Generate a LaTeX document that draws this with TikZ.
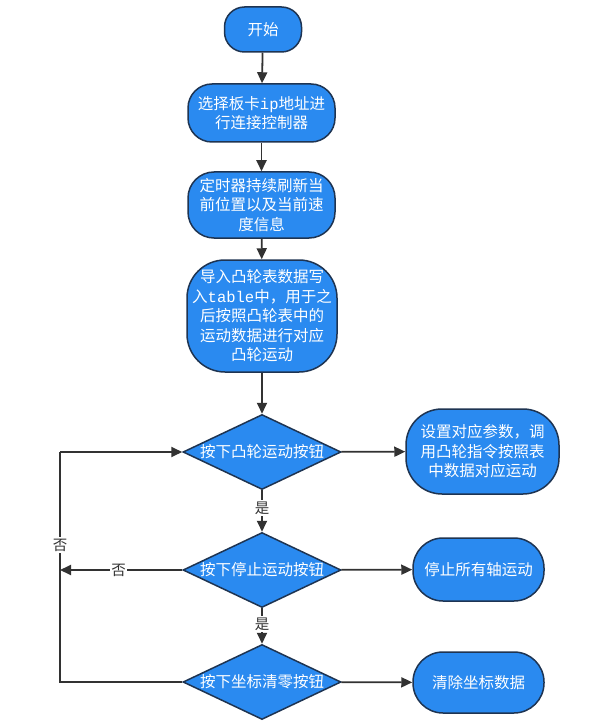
\documentclass[tikz,border=0pt]{standalone}
\usepackage{fontspec}
\newfontfamily\cjk{Noto Sans CJK SC}
\newfontfamily\mono{Liberation Mono}
\usetikzlibrary{shapes.geometric,arrows.meta}
\definecolor{boxblue}{RGB}{42,138,240}
\definecolor{boxborder}{RGB}{30,52,82}
\definecolor{linegray}{RGB}{50,50,50}
\tikzset{
  base/.style={draw=boxborder, line width=1.5pt, fill=boxblue, text=white,
    font=\cjk\fontsize{15.5}{19.5}\selectfont, align=center, inner sep=0pt},
  term/.style={base, rounded corners=#1},
  dec/.style={base, diamond, minimum width=158pt, minimum height=75pt},
  dtext/.style={text=white, font=\cjk\fontsize{15.5}{19.5}\selectfont, inner sep=0pt},
  conn/.style={draw=linegray, line width=1.8pt, -{Triangle[length=11pt,width=10pt]}},
  plain/.style={draw=linegray, line width=1.8pt},
  lab/.style={fill=white, text=linegray, font=\cjk\fontsize{14.5}{16}\selectfont, inner sep=1.5pt}
}
\begin{document}
\begin{tikzpicture}[x=1pt,y=-1pt]
\useasboundingbox (0,0) rectangle (593,727);
\fill[white] (0,0) rectangle (593,727);
% main column
\node[term=20pt, minimum width=77pt, minimum height=45pt] (start) at (263,29.5) {开始};
\node[term=24pt, minimum width=147pt, minimum height=58pt] (sel) at (261.5,113) {选择板卡{\mono ip}地址进\\行连接控制器};
\node[term=26pt, minimum width=147pt, minimum height=66pt] (tmr) at (261.5,205) {定时器持续刷新当\\前位置以及当前速\\度信息};
\node[term=38pt, minimum width=150pt, minimum height=112pt] (imp) at (262,316) {导入凸轮表数据写\\入{\mono table}中，用于之\\后按照凸轮表中的\\运动数据进行对应\\凸轮运动};
\node[dec] (d1) at (262,452) {};
\node[dec] (d2) at (262,570) {};
\node[dec] (d3) at (262,682) {};
\node[dtext] (t1) at (d1.center) {按下凸轮运动按钮};
\node[dtext] (t2) at (d2.center) {按下停止运动按钮};
\node[dtext] (t3) at (d3.center) {按下坐标清零按钮};
% right column
\node[term=36pt, minimum width=153pt, minimum height=85pt] (r1) at (482.5,451.5) {设置对应参数，调\\用凸轮指令按照表\\中数据对应运动};
\node[term=30pt, minimum width=131pt, minimum height=63pt] (r2) at (478.5,569.5) {停止所有轴运动};
\node[term=30pt, minimum width=131pt, minimum height=61pt] (r3) at (478.5,682.5) {清除坐标数据};
% connectors
\draw[conn] (start) -- (sel);
\draw[conn] (sel) -- (tmr);
\draw[conn] (tmr) -- (imp);
\draw[conn] (imp) -- (d1);
\draw[conn] (d1) -- (r1);
\draw[conn] (d2) -- (r2);
\draw[conn] (d3) -- (r3);
\draw[conn] (d1) -- node[lab, pos=0.43] {是} (d2);
\draw[conn] (d2) -- node[lab, pos=0.45] {是} (d3);
\coordinate (lm) at (60,570);
\coordinate (lb) at (60,682);
\coordinate (lt) at (60,452);
\draw[conn] (d2.west) -- node[lab, pos=0.52] {否} (lm);
\draw[plain] (d3.west) -- (lb) -- (lt);
\node[lab] (no2) at (60,545) {否};
\draw[conn] (lt) -- (d1.west);
\end{tikzpicture}
\end{document}
